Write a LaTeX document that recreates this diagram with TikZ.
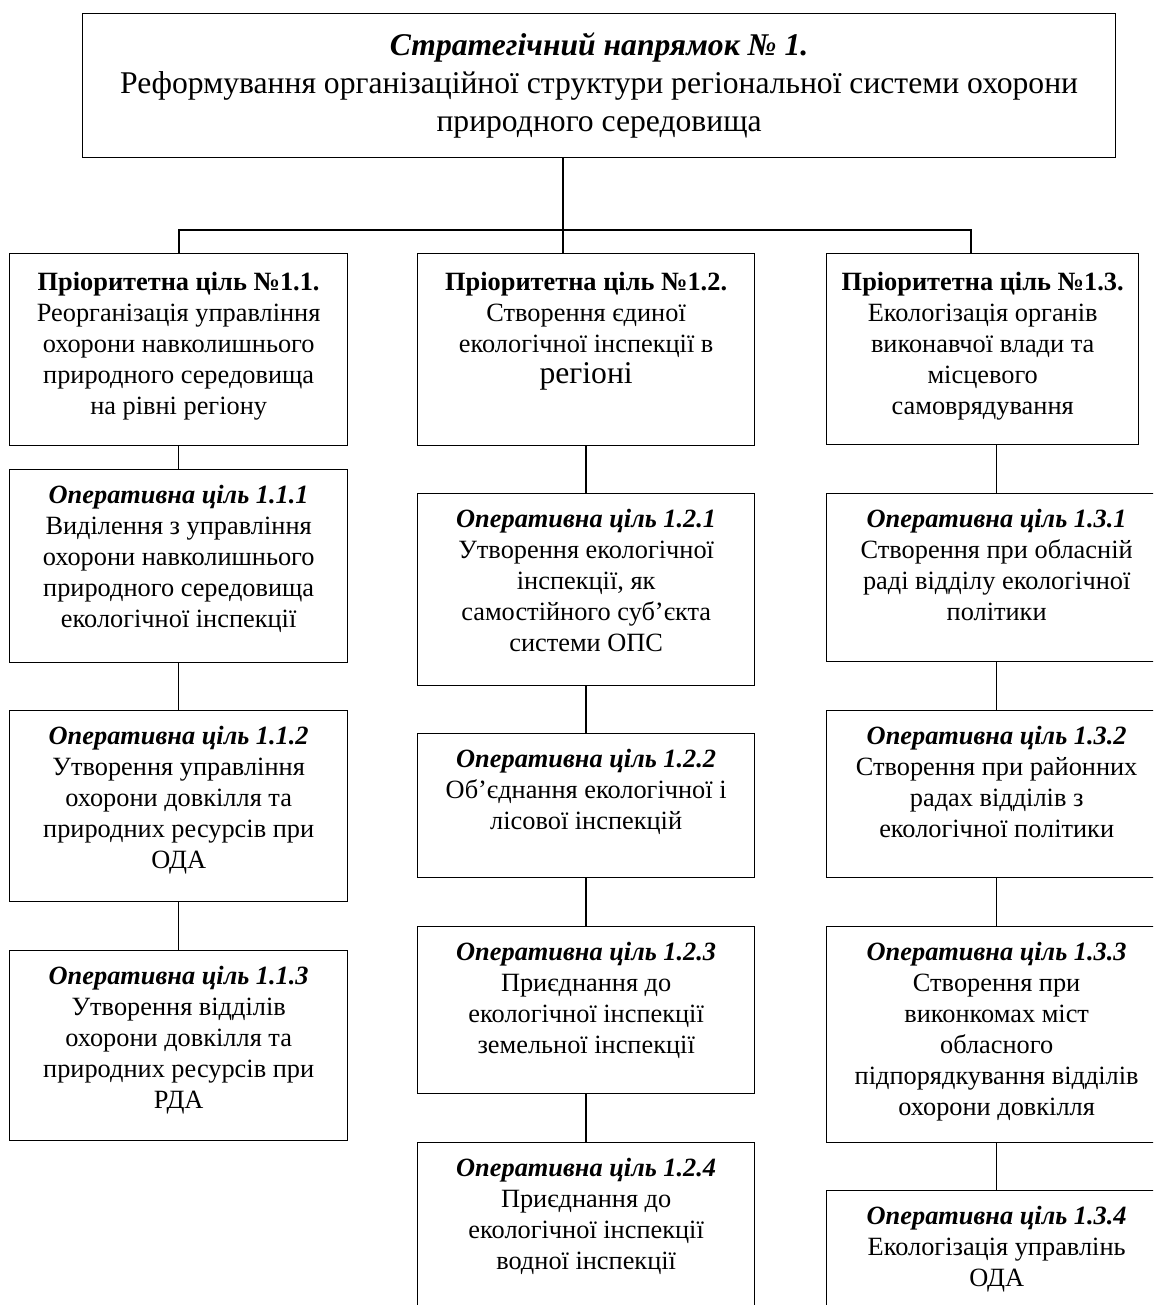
\documentclass[tikz,border=0pt]{standalone}
\usepackage{fontspec}
\setmainfont{Liberation Serif}
\usetikzlibrary{positioning}

\begin{document}
\begin{tikzpicture}[
    x=0.02cm, y=-0.02cm,
    box/.style={rectangle, draw, line width=0.8pt, anchor=north west, inner sep=0pt},
    txt/.style={anchor=north, align=center, inner sep=0pt,
                font=\fontsize{15}{17.6}\selectfont},
    bigtxt/.style={anchor=north, align=center, inner sep=0pt,
                font=\fontsize{18}{21.5}\selectfont},
    link/.style={line width=0.8pt}
]
\useasboundingbox (0,0) rectangle (1153,1305);
\clip (0,0) rectangle (1153,1305);

% strategic direction
\node[box, minimum width=20.66cm, minimum height=2.88cm] (top) at (82,13) {};
\node[bigtxt, below=11pt of top.north] (topt) {\textbf{\textit{Стратегічний напрямок № 1.}}\\
  Реформування організаційної структури регіональної системи охорони\\природного середовища};

% column 1
\node[box, minimum width=6.76cm, minimum height=3.84cm] (p11) at (9,253) {};
\node[box, minimum width=6.76cm, minimum height=3.86cm] (o111) at (9,469) {};
\node[box, minimum width=6.76cm, minimum height=3.82cm] (o112) at (9,710) {};
\node[box, minimum width=6.76cm, minimum height=3.80cm] (o113) at (9,950) {};

% column 2
\node[box, minimum width=6.74cm, minimum height=3.84cm] (p12) at (417,253) {};
\node[box, minimum width=6.74cm, minimum height=3.84cm] (o121) at (417,493) {};
\node[box, minimum width=6.74cm, minimum height=2.88cm] (o122) at (417,733) {};
\node[box, minimum width=6.74cm, minimum height=3.34cm] (o123) at (417,926) {};
\node[box, minimum width=6.74cm, minimum height=5.2cm] (o124) at (417,1142) {};

% column 3
\node[box, minimum width=6.24cm, minimum height=3.82cm] (p13) at (826,253) {};
\node[box, minimum width=6.8cm, minimum height=3.36cm] (o131) at (826,493) {};
\node[box, minimum width=6.8cm, minimum height=3.34cm] (o132) at (826,710) {};
\node[box, minimum width=6.8cm, minimum height=4.32cm] (o133) at (826,926) {};
\node[box, minimum width=6.8cm, minimum height=5.2cm] (o134) at (826,1190) {};

% texts
\node[txt, below=11pt of p11.north] (p11t) {\textbf{Пріоритетна ціль №1.1.}\\Реорганізація управління\\
  охорони навколишнього\\природного середовища\\на рівні регіону};
\node[txt, below=11pt of p12.north] (p12t) {\textbf{Пріоритетна ціль №1.2.}\\Створення єдиної\\
  екологічної інспекції в\\{\fontsize{18}{21}\selectfont регіоні}};
\node[txt, below=11pt of p13.north] (p13t) {\textbf{Пріоритетна ціль №1.3.}\\Екологізація органів\\
  виконавчої влади та\\місцевого\\самоврядування};

\node[txt, below=9pt of o111.north] (o111t) {\textbf{\textit{Оперативна ціль 1.1.1}}\\Виділення з управління\\
  охорони навколишнього\\природного середовища\\екологічної інспекції};
\node[txt, below=9pt of o112.north] (o112t) {\textbf{\textit{Оперативна ціль 1.1.2}}\\Утворення управління\\
  охорони довкілля та\\природних ресурсів при\\ОДА};
\node[txt, below=9pt of o113.north] (o113t) {\textbf{\textit{Оперативна ціль 1.1.3}}\\Утворення відділів\\
  охорони довкілля та\\природних ресурсів при\\РДА};

\node[txt, below=9pt of o121.north] (o121t) {\textbf{\textit{Оперативна ціль 1.2.1}}\\Утворення екологічної\\
  інспекції, як\\самостійного суб’єкта\\системи ОПС};
\node[txt, below=9pt of o122.north] (o122t) {\textbf{\textit{Оперативна ціль 1.2.2}}\\Об’єднання екологічної і\\
  лісової інспекцій};
\node[txt, below=9pt of o123.north] (o123t) {\textbf{\textit{Оперативна ціль 1.2.3}}\\Приєднання до\\
  екологічної інспекції\\земельної інспекції};
\node[txt, below=9pt of o124.north] (o124t) {\textbf{\textit{Оперативна ціль 1.2.4}}\\Приєднання до\\
  екологічної інспекції\\водної інспекції};

\node[txt, below=9pt of o131.north] (o131t) {\textbf{\textit{Оперативна ціль 1.3.1}}\\Створення при обласній\\
  раді відділу екологічної\\політики};
\node[txt, below=9pt of o132.north] (o132t) {\textbf{\textit{Оперативна ціль 1.3.2}}\\Створення при районних\\
  радах відділів з\\екологічної політики};
\node[txt, below=9pt of o133.north] (o133t) {\textbf{\textit{Оперативна ціль 1.3.3}}\\Створення при\\
  виконкомах міст\\обласного\\підпорядкування відділів\\охорони довкілля};
\node[txt, below=9pt of o134.north] (o134t) {\textbf{\textit{Оперативна ціль 1.3.4}}\\Екологізація управлінь\\ОДА};

% connectors
\coordinate (hub) at (563,230);
\coordinate (hl) at (179,230);
\coordinate (hr) at (971,230);
\draw[link] (hub |- top.south) -- (hub |- p12.north);
\draw[link] (hl |- p11.north) -- (hl) -- (hr) -- (hr |- p13.north);

\draw[link] (p11.south) -- (o111.north);
\draw[link] (o111.south) -- (o112.north);
\draw[link] (o112.south) -- (o113.north);

\draw[link] (p12.south) -- (o121.north);
\draw[link] (o121.south) -- (o122.north);
\draw[link] (o122.south) -- (o123.north);
\draw[link] (o123.south) -- (o124.north);

\draw[link] (o131.north |- p13.south) -- (o131.north);
\draw[link] (o131.south) -- (o132.north);
\draw[link] (o132.south) -- (o133.north);
\draw[link] (o133.south) -- (o134.north);
\end{tikzpicture}
\end{document}
